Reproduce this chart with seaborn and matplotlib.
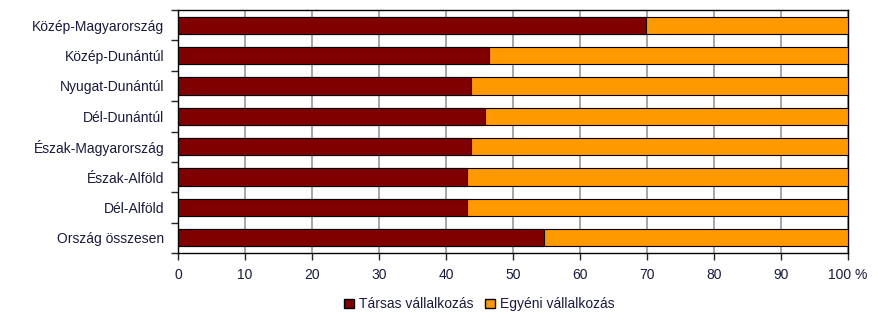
import matplotlib
matplotlib.use("Agg")
import matplotlib.pyplot as plt
import seaborn as sns
import pandas as pd
from matplotlib.patches import Patch

regions = ["Közép-Magyarország", "Közép-Dunántúl", "Nyugat-Dunántúl", "Dél-Dunántúl",
           "Észak-Magyarország", "Észak-Alföld", "Dél-Alföld", "Ország összesen"]
tarsas = [69.9, 46.4, 43.7, 45.8, 43.7, 43.1, 43.1, 54.6]
egyeni = [100 - v for v in tarsas]
xticks = [0, 10, 20, 30, 40, 50, 60, 70, 80, 90, 100]
xticklabels = ["0", "10", "20", "30", "40", "50", "60", "70", "80", "90", "100 %"]

df = pd.DataFrame({"region": regions, "tarsas": tarsas,
                   "total": [a + b for a, b in zip(tarsas, egyeni)]})

sns.set_style("white")
plt.rcParams["font.family"] = ["Liberation Sans", "DejaVu Sans"]

fig = plt.figure(figsize=(8.79, 3.13), dpi=100)
ax = fig.add_axes([0.2025, 0.1917, 0.7622, 0.7763])

c_t = "#800000"
c_e = "#FF9900"
txt = "#1a1a40"
sns.barplot(data=df, y="region", x="total", color=c_e, orient="h", ax=ax,
            width=0.57, edgecolor="black", linewidth=0.8, saturation=1, zorder=3)
sns.barplot(data=df, y="region", x="tarsas", color=c_t, orient="h", ax=ax,
            width=0.57, edgecolor="black", linewidth=0.8, saturation=1, zorder=3)

ax.set_xlim(0, 100)
ax.set_ylim(7.5, -0.5)
ax.set_xticks(xticks)
ax.set_xticklabels(xticklabels)
ax.set_xlabel("")
ax.set_ylabel("")
ax.xaxis.grid(True, color="#a0a0a0", linewidth=1.3, zorder=0)
ax.yaxis.grid(False)
ax.set_axisbelow(True)
for s in ax.spines.values():
    s.set_color("black")
    s.set_linewidth(1.0)

ax.set_yticks([i + 0.5 for i in range(-1, 8)], minor=True)
ax.set_yticks(range(8))
ax.set_yticklabels(regions)
ax.tick_params(axis="y", which="major", length=0, pad=10, labelsize=10, labelcolor=txt)
ax.tick_params(axis="y", which="minor", length=5, width=1, direction="out", left=True)
ax.tick_params(axis="x", which="major", length=5, width=1, direction="out", bottom=True,
               pad=6, labelsize=10, labelcolor=txt)

handles = [Patch(facecolor=c_t, edgecolor="black", label="Társas vállalkozás"),
           Patch(facecolor=c_e, edgecolor="black", label="Egyéni vállalkozás")]
fig.legend(handles=handles, loc="center", bbox_to_anchor=(0.5455, 0.028), ncol=2,
           frameon=False, fontsize=10, handlelength=0.7, handleheight=0.7,
           handletextpad=0.4, columnspacing=0.8, labelcolor=txt)

fig.savefig("out.png", dpi=100)
